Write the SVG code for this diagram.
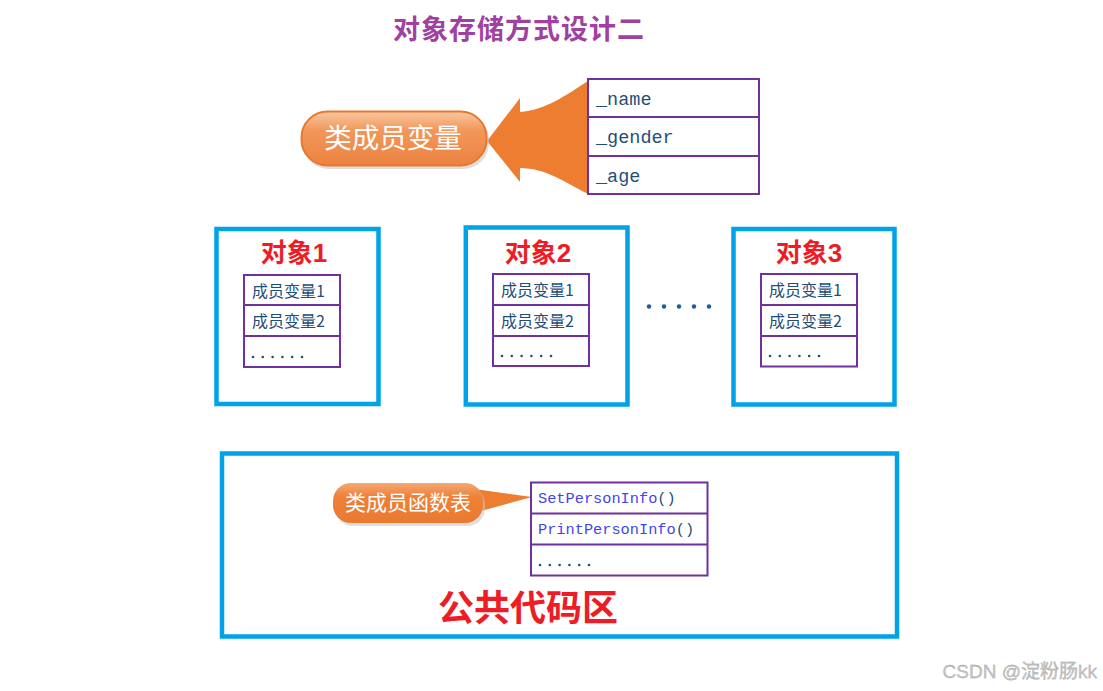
<svg xmlns="http://www.w3.org/2000/svg" width="1103" height="691" viewBox="0 0 1103 691">
<defs>
<style>
.title{font-family:"Noto Sans CJK SC",sans-serif;font-weight:bold;fill:#A040A0;font-size:27px;letter-spacing:1px;}
.red{font-family:"Liberation Sans","Noto Sans CJK SC",sans-serif;font-weight:bold;fill:#EE1C25;}
.blue{fill:none;stroke:#00A2E8;stroke-width:4.5;}
.tbl{fill:#fff;stroke:#7030A0;stroke-width:2;}
.row{stroke:#7030A0;stroke-width:2;}
.mono{font-family:"Liberation Mono","DejaVu Sans Mono",monospace;fill:#1F4E79;}
.mem{font-family:"Noto Sans CJK SC",sans-serif;fill:#1F4E79;font-size:16px;}
.fn{font-family:"Liberation Mono","DejaVu Sans Mono",monospace;fill:#4444EE;font-size:15.3px;}
.dots{fill:#1F4E79;}
.white{font-family:"Noto Sans CJK SC",sans-serif;fill:#fff;}
</style>
<linearGradient id="pillG" x1="0" y1="0" x2="0" y2="1">
<stop offset="0" stop-color="#F9C7A2"/>
<stop offset="0.35" stop-color="#F2975A"/>
<stop offset="1" stop-color="#EC8240"/>
</linearGradient>
<linearGradient id="callG" x1="0" y1="0" x2="0" y2="1">
<stop offset="0" stop-color="#F4A873"/>
<stop offset="0.35" stop-color="#EE8038"/>
<stop offset="1" stop-color="#EA7A32"/>
</linearGradient>
<g id="d6">
<circle cx="0" cy="0" r="1.3"/><circle cx="9.8" cy="0" r="1.3"/><circle cx="19.6" cy="0" r="1.3"/><circle cx="29.4" cy="0" r="1.3"/><circle cx="39.2" cy="0" r="1.3"/><circle cx="49" cy="0" r="1.3"/>
</g>
</defs>
<rect width="1103" height="691" fill="#fff"/>

<g id="title">
<text class="title" x="519" y="39" text-anchor="middle">对象存储方式设计二</text>
</g>

<g id="publicCode">
<rect class="blue" x="222" y="453.5" width="675" height="183"/>
<text class="red" x="528" y="621" font-size="36" text-anchor="middle">公共代码区</text>
</g>

<g id="connectors">
<path id="bigArrow" d="M487,141 L520,98 L520,112 C545,110 565,96 588,81 L588,194 C565,182 545,168 520,168 L520,182 Z" fill="#ED7D31"/>
<path id="callPointer" d="M474,489 L532,497 L474,513 Z" fill="#ED7D31"/>
</g>

<g id="classVars">
<rect class="tbl" x="588" y="79" width="171" height="115"/>
<line class="row" x1="588" y1="117" x2="759" y2="117"/>
<line class="row" x1="588" y1="156" x2="759" y2="156"/>
<text class="mono" x="596" y="105" font-size="18.5">_name</text>
<text class="mono" x="596" y="143" font-size="18.5">_gender</text>
<text class="mono" x="596" y="182" font-size="18.5">_age</text>
</g>

<g id="pillVars">
<rect x="303" y="114" width="186" height="55" rx="26" fill="#C8C8C8" opacity="0.6"/>
<rect x="301.5" y="111.5" width="185" height="54" rx="26" fill="url(#pillG)" stroke="#E8782C" stroke-width="2"/>
<text class="white" x="393" y="148" font-size="27.5" text-anchor="middle">类成员变量</text>
</g>

<g id="obj1">
<rect class="blue" x="216.5" y="229" width="162" height="175"/>
<text class="red" x="294" y="262" font-size="26" text-anchor="middle">对象1</text>
<rect class="tbl" x="244" y="275" width="96" height="92"/>
<line class="row" x1="244" y1="305" x2="340" y2="305"/>
<line class="row" x1="244" y1="336" x2="340" y2="336"/>
<text class="mem" x="252" y="297">成员变量1</text>
<text class="mem" x="252" y="327">成员变量2</text>
<use href="#d6" x="253" y="357" class="dots"/>
</g>

<g id="obj2">
<rect class="blue" x="465.8" y="227.5" width="161.7" height="177"/>
<text class="red" x="538" y="262" font-size="26" text-anchor="middle">对象2</text>
<rect class="tbl" x="493" y="274" width="96" height="92"/>
<line class="row" x1="493" y1="305" x2="589" y2="305"/>
<line class="row" x1="493" y1="336" x2="589" y2="336"/>
<text class="mem" x="501" y="296">成员变量1</text>
<text class="mem" x="501" y="327">成员变量2</text>
<use href="#d6" x="502" y="356" class="dots"/>
</g>

<g id="ellipsis">
<g fill="#1F5C99">
<circle cx="649" cy="306.5" r="2.2"/><circle cx="664" cy="306.5" r="2.2"/><circle cx="679" cy="306.5" r="2.2"/><circle cx="694" cy="306.5" r="2.2"/><circle cx="709" cy="306.5" r="2.2"/>
</g>
</g>

<g id="obj3">
<rect class="blue" x="733.5" y="229" width="161" height="175.5"/>
<text class="red" x="809" y="262" font-size="26" text-anchor="middle">对象3</text>
<rect class="tbl" x="761" y="274" width="96" height="92.5"/>
<line class="row" x1="761" y1="305" x2="857" y2="305"/>
<line class="row" x1="761" y1="336" x2="857" y2="336"/>
<text class="mem" x="769" y="296">成员变量1</text>
<text class="mem" x="769" y="327">成员变量2</text>
<use href="#d6" x="770" y="356" class="dots"/>
</g>

<g id="funcTable">
<rect class="tbl" x="531" y="482.5" width="176.5" height="93"/>
<line class="row" x1="531" y1="513.5" x2="707.5" y2="513.5"/>
<line class="row" x1="531" y1="544.5" x2="707.5" y2="544.5"/>
<text class="fn" x="538" y="503">SetPersonInfo<tspan fill="#1F4E79">()</tspan></text>
<text class="fn" x="538" y="534">PrintPersonInfo<tspan fill="#1F4E79">()</tspan></text>
<use href="#d6" x="540" y="565" class="dots"/>
</g>

<g id="pillFuncs">
<rect x="335" y="486" width="150" height="40" rx="18" fill="#C8C8C8" opacity="0.6"/>
<rect x="333" y="483" width="150" height="40" rx="18" fill="url(#callG)"/>
<text class="white" x="408" y="510" font-size="21" text-anchor="middle">类成员函数表</text>
</g>

<g id="watermark">
<text x="1097" y="678" font-family="'Liberation Sans','Noto Sans CJK SC',sans-serif" font-size="19" fill="#C8C8C8" stroke="#999" stroke-width="0.3" text-anchor="end">CSDN @淀粉肠kk</text>
</g>
</svg>
